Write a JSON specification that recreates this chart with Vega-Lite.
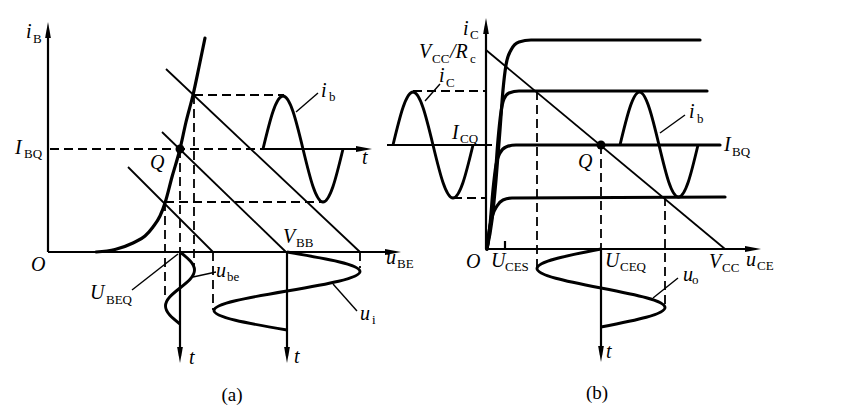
{
  "$schema": "https://vega.github.io/schema/vega-lite/v6.json",
  "width": 855,
  "height": 415,
  "padding": 0,
  "autosize": {"type": "fit", "contains": "padding"},
  "background": "white",
  "config": {"view": {"stroke": null}},
  "datasets": {
    "lines": [
      {"g":"d1","r":"dash","o":0,"x":50,"y":149},{"g":"d1","r":"dash","o":1,"x":263,"y":149},
      {"g":"d2","r":"dash","o":0,"x":194,"y":95},{"g":"d2","r":"dash","o":1,"x":284,"y":95},
      {"g":"d3","r":"dash","o":0,"x":165,"y":202},{"g":"d3","r":"dash","o":1,"x":322,"y":202},
      {"g":"d4","r":"dash","o":0,"x":165,"y":202},{"g":"d4","r":"dash","o":1,"x":165,"y":300},
      {"g":"d5","r":"dash","o":0,"x":180,"y":149},{"g":"d5","r":"dash","o":1,"x":180,"y":252},
      {"g":"d6","r":"dash","o":0,"x":194,"y":95},{"g":"d6","r":"dash","o":1,"x":194,"y":267},
      {"g":"d7","r":"dash","o":0,"x":213,"y":252},{"g":"d7","r":"dash","o":1,"x":213,"y":310},
      {"g":"d8","r":"dash","o":0,"x":360,"y":252},{"g":"d8","r":"dash","o":1,"x":360,"y":268},
      {"g":"e1","r":"dash","o":0,"x":413,"y":91},{"g":"e1","r":"dash","o":1,"x":486,"y":91},
      {"g":"e2","r":"dash","o":0,"x":453,"y":198},{"g":"e2","r":"dash","o":1,"x":486,"y":198},
      {"g":"e3","r":"dash","o":0,"x":537,"y":91},{"g":"e3","r":"dash","o":1,"x":537,"y":268},
      {"g":"e4","r":"dash","o":0,"x":601,"y":145},{"g":"e4","r":"dash","o":1,"x":601,"y":249},
      {"g":"e5","r":"dash","o":0,"x":665,"y":197},{"g":"e5","r":"dash","o":1,"x":665,"y":308},

      {"g":"a1","r":"axis","o":0,"x":48,"y":252},{"g":"a1","r":"axis","o":1,"x":48,"y":30},
      {"g":"a2","r":"axis","o":0,"x":48,"y":252},{"g":"a2","r":"axis","o":1,"x":394,"y":252},
      {"g":"a3","r":"axis","o":0,"x":263,"y":149},{"g":"a3","r":"axis","o":1,"x":365,"y":149},
      {"g":"a4","r":"axis","o":0,"x":180,"y":252},{"g":"a4","r":"axis","o":1,"x":180,"y":356},
      {"g":"a5","r":"axis","o":0,"x":287,"y":252},{"g":"a5","r":"axis","o":1,"x":287,"y":356},
      {"g":"b1","r":"axis","o":0,"x":486,"y":249},{"g":"b1","r":"axis","o":1,"x":486,"y":26},
      {"g":"b2","r":"axis","o":0,"x":486,"y":249},{"g":"b2","r":"axis","o":1,"x":754,"y":249},
      {"g":"b3","r":"axis","o":0,"x":601,"y":249},{"g":"b3","r":"axis","o":1,"x":601,"y":355},
      {"g":"b4","r":"axis","o":0,"x":387,"y":145},{"g":"b4","r":"axis","o":1,"x":492,"y":145},
      {"g":"b5","r":"axis","o":0,"x":505,"y":241},{"g":"b5","r":"axis","o":1,"x":505,"y":249},

      {"g":"l1","r":"leader","o":0,"x":296,"y":112},{"g":"l1","r":"leader","o":1,"x":318,"y":93},
      {"g":"l2","r":"leader","o":0,"x":193,"y":277},{"g":"l2","r":"leader","o":1,"x":216,"y":272},
      {"g":"l3","r":"leader","o":0,"x":132,"y":290},{"g":"l3","r":"leader","o":1,"x":178,"y":254},
      {"g":"l4","r":"leader","o":0,"x":333,"y":284},{"g":"l4","r":"leader","o":1,"x":357,"y":311},
      {"g":"l5","r":"leader","o":0,"x":425,"y":101},{"g":"l5","r":"leader","o":1,"x":440,"y":84},
      {"g":"l6","r":"leader","o":0,"x":660,"y":133},{"g":"l6","r":"leader","o":1,"x":685,"y":115},
      {"g":"l7","r":"leader","o":0,"x":653,"y":298},{"g":"l7","r":"leader","o":1,"x":678,"y":278},

      {"g":"L1","r":"load","o":0,"x":166,"y":69},{"g":"L1","r":"load","o":1,"x":360,"y":252},
      {"g":"L2","r":"load","o":0,"x":162,"y":132},{"g":"L2","r":"load","o":1,"x":286,"y":252},
      {"g":"L3","r":"load","o":0,"x":128,"y":167},{"g":"L3","r":"load","o":1,"x":213,"y":252},
      {"g":"L4","r":"load","o":0,"x":486,"y":50},{"g":"L4","r":"load","o":1,"x":725,"y":249},

      {"g":"c0","r":"curve","o":0,"x":96,"y":252},{"g":"c0","r":"curve","o":1,"x":115,"y":249.5},
      {"g":"c0","r":"curve","o":2,"x":133,"y":243},{"g":"c0","r":"curve","o":3,"x":145,"y":236},
      {"g":"c0","r":"curve","o":4,"x":153,"y":227},{"g":"c0","r":"curve","o":5,"x":160,"y":216},
      {"g":"c0","r":"curve","o":6,"x":165,"y":203},{"g":"c0","r":"curve","o":7,"x":172,"y":177},
      {"g":"c0","r":"curve","o":8,"x":180,"y":149},{"g":"c0","r":"curve","o":9,"x":186,"y":122},
      {"g":"c0","r":"curve","o":10,"x":193,"y":95},{"g":"c0","r":"curve","o":11,"x":199,"y":67},
      {"g":"c0","r":"curve","o":12,"x":205,"y":38},

      {"g":"c1","r":"curve","o":0,"x":487,"y":249},{"g":"c1","r":"curve","o":1,"x":492,"y":220},
      {"g":"c1","r":"curve","o":2,"x":496,"y":180},{"g":"c1","r":"curve","o":3,"x":500,"y":130},
      {"g":"c1","r":"curve","o":4,"x":503,"y":90},{"g":"c1","r":"curve","o":5,"x":506,"y":65},
      {"g":"c1","r":"curve","o":6,"x":511,"y":50},{"g":"c1","r":"curve","o":7,"x":519,"y":42},
      {"g":"c1","r":"curve","o":8,"x":531,"y":40},{"g":"c1","r":"curve","o":9,"x":700,"y":40},

      {"g":"c2","r":"curve","o":0,"x":487,"y":249},{"g":"c2","r":"curve","o":1,"x":491,"y":220},
      {"g":"c2","r":"curve","o":2,"x":495,"y":180},{"g":"c2","r":"curve","o":3,"x":498,"y":140},
      {"g":"c2","r":"curve","o":4,"x":501,"y":112},{"g":"c2","r":"curve","o":5,"x":504,"y":99},
      {"g":"c2","r":"curve","o":6,"x":509,"y":93},{"g":"c2","r":"curve","o":7,"x":519,"y":91},
      {"g":"c2","r":"curve","o":8,"x":707,"y":91},

      {"g":"c3","r":"curve","o":0,"x":487,"y":249},{"g":"c3","r":"curve","o":1,"x":490,"y":225},
      {"g":"c3","r":"curve","o":2,"x":493,"y":190},{"g":"c3","r":"curve","o":3,"x":496,"y":165},
      {"g":"c3","r":"curve","o":4,"x":500,"y":153},{"g":"c3","r":"curve","o":5,"x":506,"y":147},
      {"g":"c3","r":"curve","o":6,"x":516,"y":145},{"g":"c3","r":"curve","o":7,"x":720,"y":145},

      {"g":"c4","r":"curve","o":0,"x":487,"y":249},{"g":"c4","r":"curve","o":1,"x":489,"y":232},
      {"g":"c4","r":"curve","o":2,"x":492,"y":217},{"g":"c4","r":"curve","o":3,"x":497,"y":206},
      {"g":"c4","r":"curve","o":4,"x":503,"y":200},{"g":"c4","r":"curve","o":5,"x":512,"y":198},
      {"g":"c4","r":"curve","o":6,"x":725,"y":197},

      {"g":"w1","r":"wave","o":0,"x":263,"y":149},{"g":"w1","r":"wave","o":1,"x":273,"y":111.5},
      {"g":"w1","r":"wave","o":2,"x":283,"y":96},{"g":"w1","r":"wave","o":3,"x":293,"y":111.5},
      {"g":"w1","r":"wave","o":4,"x":303,"y":149},{"g":"w1","r":"wave","o":5,"x":313,"y":186.5},
      {"g":"w1","r":"wave","o":6,"x":323,"y":202},{"g":"w1","r":"wave","o":7,"x":333,"y":186.5},
      {"g":"w1","r":"wave","o":8,"x":343,"y":149},

      {"g":"w2","r":"wave","o":0,"x":180,"y":252},{"g":"w2","r":"wave","o":1,"x":190.3,"y":261},
      {"g":"w2","r":"wave","o":2,"x":194.5,"y":270},{"g":"w2","r":"wave","o":3,"x":190.3,"y":279},
      {"g":"w2","r":"wave","o":4,"x":180,"y":288},{"g":"w2","r":"wave","o":5,"x":169.7,"y":297},
      {"g":"w2","r":"wave","o":6,"x":165.5,"y":306},{"g":"w2","r":"wave","o":7,"x":169.7,"y":315},
      {"g":"w2","r":"wave","o":8,"x":180,"y":324},

      {"g":"w3","r":"wave","o":0,"x":287,"y":252},{"g":"w3","r":"wave","o":1,"x":338.6,"y":261.75},
      {"g":"w3","r":"wave","o":2,"x":360,"y":271.5},{"g":"w3","r":"wave","o":3,"x":338.6,"y":281.25},
      {"g":"w3","r":"wave","o":4,"x":287,"y":291},{"g":"w3","r":"wave","o":5,"x":235.4,"y":300.75},
      {"g":"w3","r":"wave","o":6,"x":214,"y":310.5},{"g":"w3","r":"wave","o":7,"x":235.4,"y":320.25},
      {"g":"w3","r":"wave","o":8,"x":287,"y":330},

      {"g":"v1","r":"wave","o":0,"x":393,"y":145},{"g":"v1","r":"wave","o":1,"x":403,"y":107.5},
      {"g":"v1","r":"wave","o":2,"x":413,"y":92},{"g":"v1","r":"wave","o":3,"x":423,"y":107.5},
      {"g":"v1","r":"wave","o":4,"x":433,"y":145},{"g":"v1","r":"wave","o":5,"x":443,"y":182.5},
      {"g":"v1","r":"wave","o":6,"x":453,"y":198},{"g":"v1","r":"wave","o":7,"x":463,"y":182.5},
      {"g":"v1","r":"wave","o":8,"x":473,"y":145},

      {"g":"v2","r":"wave","o":0,"x":620,"y":145},{"g":"v2","r":"wave","o":1,"x":629.75,"y":108},
      {"g":"v2","r":"wave","o":2,"x":639.5,"y":92},{"g":"v2","r":"wave","o":3,"x":649.25,"y":108},
      {"g":"v2","r":"wave","o":4,"x":659,"y":145},{"g":"v2","r":"wave","o":5,"x":668.75,"y":182},
      {"g":"v2","r":"wave","o":6,"x":678.5,"y":197},{"g":"v2","r":"wave","o":7,"x":688.25,"y":182},
      {"g":"v2","r":"wave","o":8,"x":698,"y":145},

      {"g":"v3","r":"wave","o":0,"x":601,"y":249},{"g":"v3","r":"wave","o":1,"x":555.7,"y":258.75},
      {"g":"v3","r":"wave","o":2,"x":537,"y":268.5},{"g":"v3","r":"wave","o":3,"x":555.7,"y":278.25},
      {"g":"v3","r":"wave","o":4,"x":601,"y":288},{"g":"v3","r":"wave","o":5,"x":646.3,"y":297.75},
      {"g":"v3","r":"wave","o":6,"x":665,"y":307.5},{"g":"v3","r":"wave","o":7,"x":646.3,"y":317.25},
      {"g":"v3","r":"wave","o":8,"x":601,"y":327}
    ],
    "arrows": [
      {"dir":"up","x":48,"y":30},
      {"dir":"right","x":393,"y":252},
      {"dir":"right","x":364,"y":149},
      {"dir":"down","x":180,"y":355},
      {"dir":"down","x":287,"y":355},
      {"dir":"up","x":486,"y":26},
      {"dir":"right","x":753,"y":249},
      {"dir":"down","x":601,"y":354}
    ],
    "dots": [
      {"name":"Q","x":180,"y":149},
      {"name":"Q","x":601,"y":145}
    ],
    "labels": [
      {"t":"i","k":"i","x":26,"y":38},{"t":"B","k":"s","x":33,"y":43},
      {"t":"I","k":"i","x":15,"y":154},{"t":"BQ","k":"s","x":24,"y":158},
      {"t":"O","k":"i","x":31,"y":271},
      {"t":"Q","k":"i","x":150,"y":169},
      {"t":"i","k":"i","x":321,"y":97},{"t":"b","k":"s","x":329,"y":101},
      {"t":"t","k":"i","x":362,"y":164},
      {"t":"V","k":"i","x":283,"y":243},{"t":"BB","k":"s","x":296,"y":247},
      {"t":"u","k":"i","x":386,"y":264},{"t":"BE","k":"s","x":397,"y":268},
      {"t":"U","k":"i","x":90,"y":299},{"t":"BEQ","k":"s","x":106,"y":304},
      {"t":"u","k":"i","x":216,"y":277},{"t":"be","k":"s","x":227,"y":281},
      {"t":"u","k":"i","x":360,"y":320},{"t":"i","k":"s","x":372,"y":324},
      {"t":"t","k":"i","x":189,"y":364},
      {"t":"t","k":"i","x":294,"y":363},
      {"t":"i","k":"i","x":463,"y":35},{"t":"C","k":"s","x":470,"y":39},
      {"t":"V","k":"i","x":419,"y":58},{"t":"CC","k":"s","x":432,"y":63},
      {"t":"/R","k":"i","x":450,"y":58},{"t":"c","k":"s","x":470,"y":63},
      {"t":"i","k":"i","x":439,"y":82},{"t":"C","k":"s","x":446,"y":87},
      {"t":"I","k":"i","x":452,"y":139},{"t":"CQ","k":"s","x":460,"y":143},
      {"t":"O","k":"i","x":466,"y":268},
      {"t":"U","k":"i","x":491,"y":267},{"t":"CES","k":"s","x":505,"y":271},
      {"t":"U","k":"i","x":605,"y":267},{"t":"CEQ","k":"s","x":620,"y":271},
      {"t":"Q","k":"i","x":578,"y":168},
      {"t":"i","k":"i","x":689,"y":118},{"t":"b","k":"s","x":697,"y":123},
      {"t":"I","k":"i","x":724,"y":151},{"t":"BQ","k":"s","x":732,"y":156},
      {"t":"V","k":"i","x":709,"y":268},{"t":"CC","k":"s","x":722,"y":272},
      {"t":"u","k":"i","x":746,"y":266},{"t":"CE","k":"s","x":757,"y":270},
      {"t":"u","k":"i","x":683,"y":281},{"t":"o","k":"s","x":692,"y":284},
      {"t":"t","k":"i","x":606,"y":358},
      {"t":"(a)","k":"c","x":232,"y":395},
      {"t":"(b)","k":"c","x":597,"y":393}
    ]
  },
  "layer": [
    {
      "data": {"name": "lines"},
      "transform": [{"filter": "datum.r === 'dash'"}],
      "mark": {"type": "line", "color": "black", "strokeWidth": 1.8, "strokeDash": [9, 5]},
      "encoding": {
        "x": {"field": "x", "type": "quantitative", "scale": {"domain": [0, 855], "nice": false, "zero": false}, "axis": null},
        "y": {"field": "y", "type": "quantitative", "scale": {"domain": [0, 415], "reverse": true, "nice": false, "zero": false}, "axis": null},
        "detail": {"field": "g"},
        "order": {"field": "o"}
      }
    },
    {
      "data": {"name": "lines"},
      "transform": [{"filter": "datum.r === 'axis'"}],
      "mark": {"type": "line", "color": "black", "strokeWidth": 2.2},
      "encoding": {
        "x": {"field": "x", "type": "quantitative", "axis": null},
        "y": {"field": "y", "type": "quantitative", "axis": null},
        "detail": {"field": "g"},
        "order": {"field": "o"}
      }
    },
    {
      "data": {"name": "lines"},
      "transform": [{"filter": "datum.r === 'leader'"}],
      "mark": {"type": "line", "color": "black", "strokeWidth": 1.4},
      "encoding": {
        "x": {"field": "x", "type": "quantitative", "axis": null},
        "y": {"field": "y", "type": "quantitative", "axis": null},
        "detail": {"field": "g"},
        "order": {"field": "o"}
      }
    },
    {
      "data": {"name": "lines"},
      "transform": [{"filter": "datum.r === 'load'"}],
      "mark": {"type": "line", "color": "black", "strokeWidth": 1.8},
      "encoding": {
        "x": {"field": "x", "type": "quantitative", "axis": null},
        "y": {"field": "y", "type": "quantitative", "axis": null},
        "detail": {"field": "g"},
        "order": {"field": "o"}
      }
    },
    {
      "data": {"name": "lines"},
      "transform": [{"filter": "datum.r === 'curve'"}],
      "mark": {"type": "line", "color": "black", "strokeWidth": 3.2, "interpolate": "monotone", "strokeCap": "round"},
      "encoding": {
        "x": {"field": "x", "type": "quantitative", "axis": null},
        "y": {"field": "y", "type": "quantitative", "axis": null},
        "detail": {"field": "g"},
        "order": {"field": "o"}
      }
    },
    {
      "data": {"name": "lines"},
      "transform": [{"filter": "datum.r === 'wave'"}],
      "mark": {"type": "line", "color": "black", "strokeWidth": 2.9, "interpolate": "natural"},
      "encoding": {
        "x": {"field": "x", "type": "quantitative", "axis": null},
        "y": {"field": "y", "type": "quantitative", "axis": null},
        "detail": {"field": "g"},
        "order": {"field": "o"}
      }
    },
    {
      "data": {"name": "arrows"},
      "mark": {"type": "point", "filled": true, "color": "black", "opacity": 1, "size": 256},
      "encoding": {
        "x": {"field": "x", "type": "quantitative", "axis": null},
        "y": {"field": "y", "type": "quantitative", "axis": null},
        "shape": {"field": "dir", "type": "nominal", "legend": null,
          "scale": {"domain": ["up", "down", "right"], "range": ["M0,-1L0.36,1L-0.36,1Z", "M0,1L0.36,-1L-0.36,-1Z", "M1,0L-1,0.36L-1,-0.36Z"]}}
      }
    },
    {
      "data": {"name": "dots"},
      "mark": {"type": "circle", "color": "black", "opacity": 1, "size": 80},
      "encoding": {
        "x": {"field": "x", "type": "quantitative", "axis": null},
        "y": {"field": "y", "type": "quantitative", "axis": null}
      }
    },
    {
      "data": {"name": "labels"},
      "transform": [{"filter": "datum.k === 'i'"}],
      "mark": {"type": "text", "font": "Liberation Serif", "fontStyle": "italic", "fontSize": 20, "align": "left", "baseline": "alphabetic", "color": "black"},
      "encoding": {
        "x": {"field": "x", "type": "quantitative", "axis": null},
        "y": {"field": "y", "type": "quantitative", "axis": null},
        "text": {"field": "t"}
      }
    },
    {
      "data": {"name": "labels"},
      "transform": [{"filter": "datum.k === 's'"}],
      "mark": {"type": "text", "font": "Liberation Serif", "fontSize": 13, "align": "left", "baseline": "alphabetic", "color": "black"},
      "encoding": {
        "x": {"field": "x", "type": "quantitative", "axis": null},
        "y": {"field": "y", "type": "quantitative", "axis": null},
        "text": {"field": "t"}
      }
    },
    {
      "data": {"name": "labels"},
      "transform": [{"filter": "datum.k === 'c'"}],
      "mark": {"type": "text", "font": "Liberation Serif", "fontSize": 19, "align": "center", "baseline": "middle", "color": "black"},
      "encoding": {
        "x": {"field": "x", "type": "quantitative", "axis": null},
        "y": {"field": "y", "type": "quantitative", "axis": null},
        "text": {"field": "t"}
      }
    }
  ]
}
